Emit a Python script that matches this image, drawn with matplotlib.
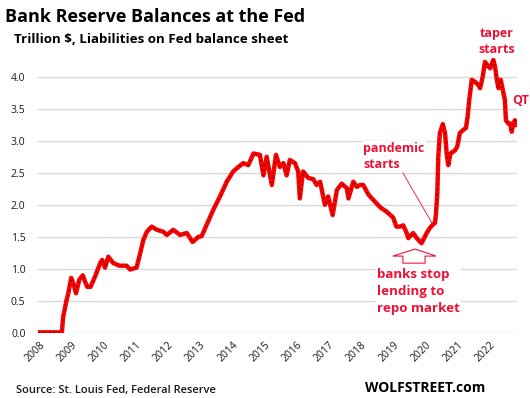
import numpy as np
import matplotlib
matplotlib.use("Agg")
import matplotlib.pyplot as plt
from matplotlib.patches import Polygon

# weekly reserve balances (decimal year, trillion $)
years = [
    2008.00, 2008.30, 2008.71, 2008.75, 2008.85, 2008.91, 2009.00, 2009.08, 2009.15, 2009.25,
    2009.36, 2009.43, 2009.50, 2009.60, 2009.74, 2009.90, 2009.96, 2010.05, 2010.15, 2010.31,
    2010.50, 2010.72, 2010.83, 2011.03, 2011.14, 2011.24, 2011.35, 2011.50, 2011.66, 2011.86,
    2011.97, 2012.17, 2012.38, 2012.59, 2012.77, 2012.95, 2013.05, 2013.20, 2013.41, 2013.62,
    2013.83, 2014.03, 2014.19, 2014.34, 2014.50, 2014.66, 2014.86, 2014.97, 2015.07, 2015.23,
    2015.36, 2015.48, 2015.59, 2015.69, 2015.79, 2015.95, 2016.05, 2016.10, 2016.20, 2016.36,
    2016.52, 2016.62, 2016.73, 2016.88, 2016.98, 2017.12, 2017.25, 2017.40, 2017.56, 2017.61,
    2017.76, 2017.87, 2017.97, 2018.07, 2018.23, 2018.43, 2018.60, 2018.80, 2019.00, 2019.10,
    2019.21, 2019.31, 2019.42, 2019.47, 2019.62, 2019.73, 2019.88, 2020.04, 2020.14, 2020.25,
    2020.30, 2020.33, 2020.37, 2020.40, 2020.45, 2020.54, 2020.61, 2020.66, 2020.71, 2020.78,
    2020.92, 2020.99, 2021.07, 2021.18, 2021.26, 2021.31, 2021.36, 2021.44, 2021.54, 2021.64,
    2021.70, 2021.78, 2021.85, 2021.92, 2022.01, 2022.11, 2022.16, 2022.22, 2022.27, 2022.34,
    2022.40, 2022.47, 2022.50, 2022.57, 2022.63, 2022.68, 2022.73, 2022.78, 2022.83,
]
reserves = [
    0.01, 0.01, 0.01, 0.25, 0.50, 0.62, 0.86, 0.75, 0.62, 0.83,
    0.90, 0.80, 0.72, 0.72, 0.88, 1.09, 1.14, 1.02, 1.19, 1.09,
    1.05, 1.05, 0.99, 1.02, 1.24, 1.45, 1.58, 1.66, 1.61, 1.58,
    1.53, 1.61, 1.53, 1.56, 1.42, 1.50, 1.51, 1.68, 1.92, 2.13,
    2.36, 2.52, 2.59, 2.65, 2.62, 2.80, 2.78, 2.46, 2.75, 2.31,
    2.78, 2.59, 2.65, 2.46, 2.70, 2.65, 2.52, 2.10, 2.52, 2.42,
    2.40, 2.31, 2.36, 2.00, 2.13, 1.84, 2.23, 2.33, 2.26, 2.10,
    2.36, 2.28, 2.31, 2.31, 2.16, 2.05, 1.96, 1.89, 1.80, 1.66,
    1.66, 1.68, 1.56, 1.48, 1.56, 1.48, 1.40, 1.56, 1.64, 1.70,
    1.72, 1.87, 2.18, 2.75, 3.12, 3.26, 3.12, 2.80, 2.62, 2.80,
    2.85, 2.91, 3.12, 3.17, 3.20, 3.37, 3.63, 3.95, 3.92, 3.87,
    3.82, 4.00, 4.23, 4.18, 4.13, 4.26, 4.16, 3.95, 3.82, 3.95,
    3.80, 3.63, 3.32, 3.27, 3.27, 3.14, 3.27, 3.32, 3.25,
]
year_ticks = list(range(2008, 2023))
value_ticks = [0.0, 0.5, 1.0, 1.5, 2.0, 2.5, 3.0, 3.5, 4.0]

red = "#ee1133"
txt = "#1a1a1a"
plt.rcParams['font.family'] = ['Open Sans', 'DejaVu Sans']

fig = plt.figure(figsize=(5.3, 3.98), dpi=100)
ax = fig.add_axes([38 / 530, 65 / 398, 479 / 530, 282 / 398])

ax.plot(years, reserves, color="#ff0000", lw=3.2, solid_joinstyle="round", zorder=3)
ax.plot(years, reserves, color="black", lw=0.8, ls=(0, (1, 3.5)), zorder=4)

ax.set_xlim(2008 - 1 / 32.2, 2008 + 478 / 32.2)
ax.set_ylim(0, 4.4)
ax.set_yticks(value_ticks)
ax.set_yticklabels([f"{v:.1f}" for v in value_ticks], fontsize=7.5, color=txt)
ax.set_xticks(year_ticks)
ax.set_xticklabels([str(y) for y in year_ticks], rotation=45, ha="right",
                   rotation_mode="anchor", fontsize=7.5, color=txt)
ax.tick_params(length=0, pad=9)
ax.tick_params(axis="x", pad=5)
ax.grid(axis="y", color="#d9d9d9", lw=1)
ax.set_axisbelow(True)
for s in ax.spines.values():
    s.set_visible(False)

# annotations
box = dict(facecolor="white", edgecolor="none", pad=1)
ax.text(2022.22, 4.55, "taper\nstarts", color=red, fontsize=9, fontweight="bold",
        ha="center", va="center", linespacing=1.3, bbox=box, zorder=5)
ax.text(2022.69, 3.62, "QT", color=red, fontsize=9, fontweight="bold",
        ha="left", va="center", bbox=box, zorder=5)
ax.text(2018.06, 2.75, "pandemic\nstarts", color=red, fontsize=9, fontweight="bold",
        ha="left", va="center", linespacing=1.3, bbox=box, zorder=5)
ax.plot([2019.30, 2020.20], [2.50, 1.72], color=red, lw=0.6, zorder=5)
ax.text(2018.50, 0.64, "banks stop\nlending to\nrepo market", color=red, fontsize=9.6,
        fontweight="bold", ha="left", va="center", linespacing=1.4, bbox=box, zorder=5)
arrow = [(2019.68, 1.31), (2020.33, 1.20), (2019.99, 1.20), (2019.99, 1.09),
         (2019.30, 1.09), (2019.30, 1.20), (2018.99, 1.20)]
ax.add_patch(Polygon(arrow, closed=True, facecolor="white", edgecolor=red, lw=0.8, zorder=5))

fig.text(5 / 530, 1 - 22 / 398, "Bank Reserve Balances at the Fed", fontsize=13,
         fontweight="bold", color="black", va="baseline")
fig.text(14 / 530, 1 - 43 / 398, "Trillion $, Liabilities on Fed balance sheet", fontsize=9.6,
         fontweight="bold", color="black", va="baseline")
fig.text(16 / 530, 1 - 390 / 398, "Source: St. Louis Fed, Federal Reserve", fontsize=8,
         fontweight="semibold", color=txt, va="center")
fig.text(365 / 530, 1 - 388 / 398, "WOLFSTREET.com", fontsize=10,
         fontweight="bold", color="black", va="center")

fig.savefig("out.png", dpi=100)
